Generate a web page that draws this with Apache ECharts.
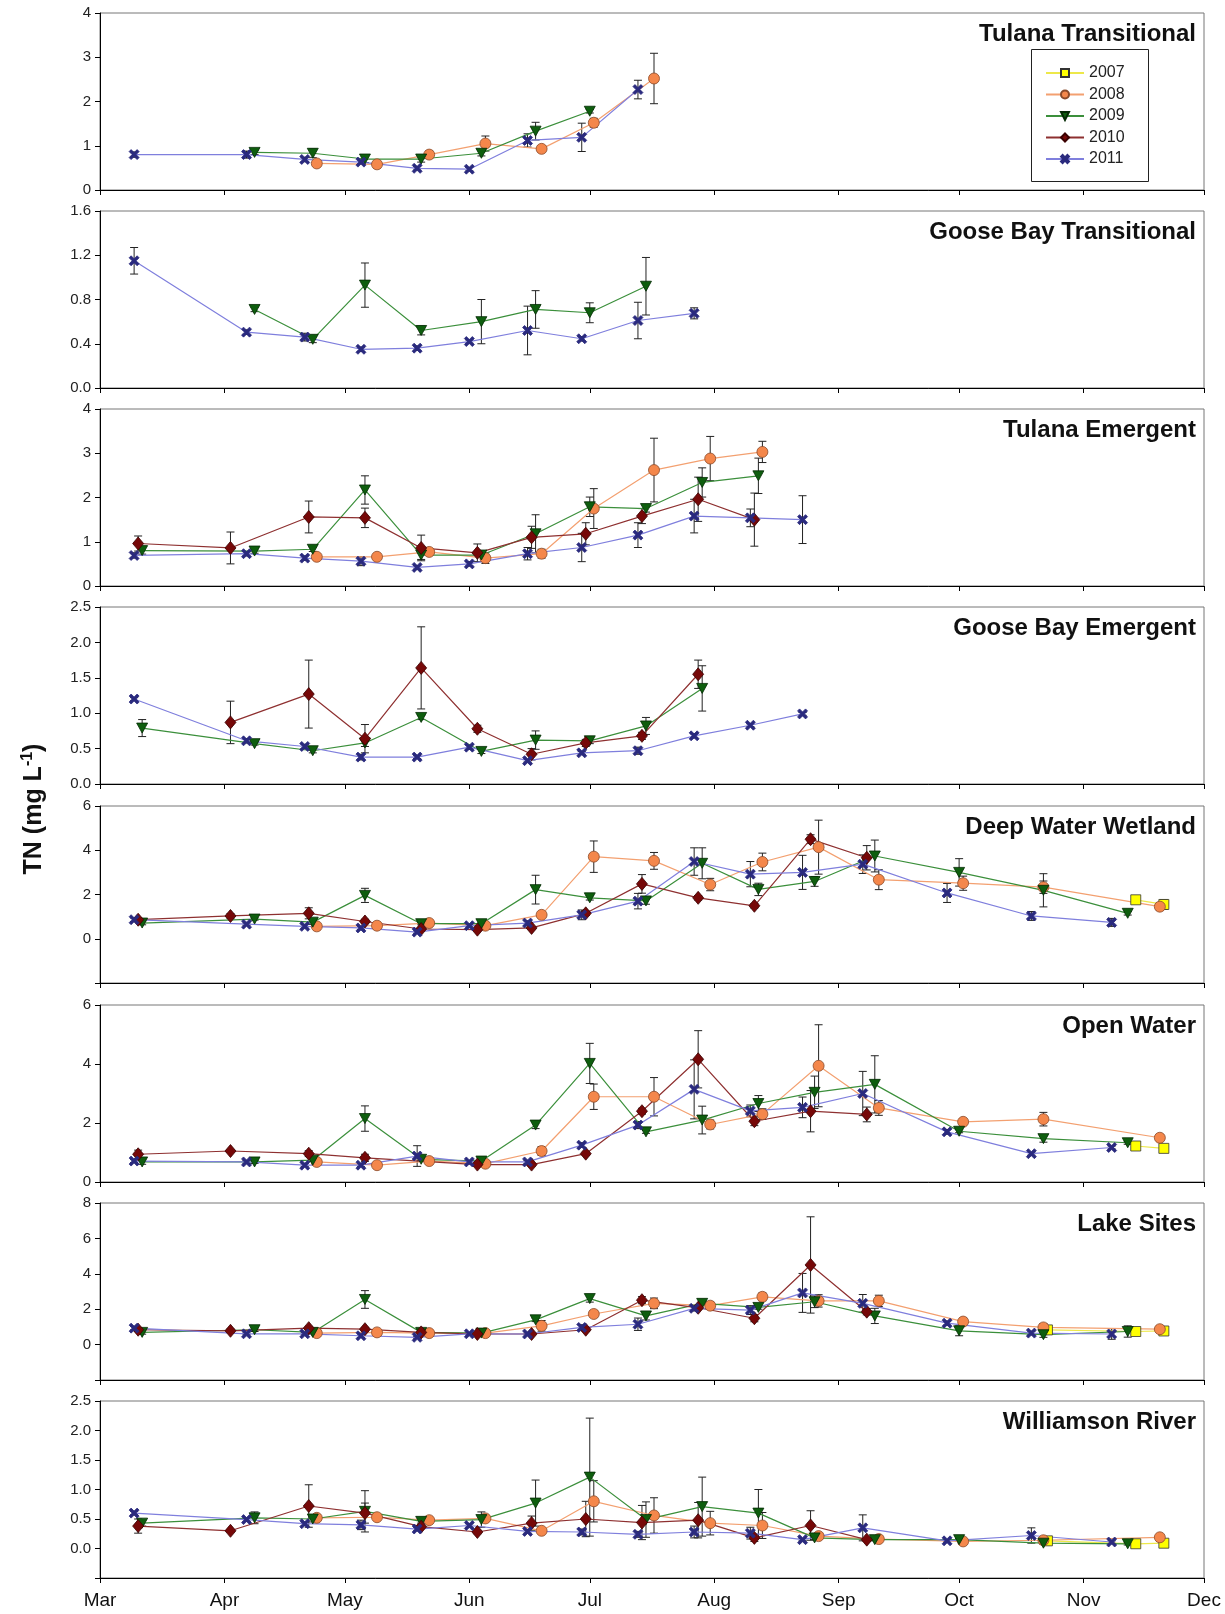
<!DOCTYPE html>
<html><head><meta charset="utf-8">
<script src="https://cdn.jsdelivr.net/npm/echarts@6/dist/echarts.min.js"></script>
<style>html,body{margin:0;padding:0;background:#fff}#c{width:1225px;height:1614px}</style>
</head><body><div id="c"></div><script>
// ---- axis / category data ----
const monthNames = ['Mar','Apr','May','Jun','Jul','Aug','Sep','Oct','Nov','Dec'];
const monthStartDays = [0,31,61,92,122,153,184,214,245,275]; // days after Mar 1
const years = ['2007','2008','2009','2010','2011'];
const panelTitles = ['Tulana Transitional','Goose Bay Transitional','Tulana Emergent','Goose Bay Emergent','Deep Water Wetland','Open Water','Lake Sites','Williamson River'];
const yMin = [0,0,0,0,-2,0,-2,-0.5];
const yMax = [4,1.6,4,2.5,6,6,8,2.5];
const yStep = [1,0.4,1,0.5,2,2,2,0.5];
const yDecimals = [0,1,0,1,0,0,0,1];

// sampling days (days after Mar 1) for each year
const days2007 = [236,258,265];
const days2008 = [54,69,82,96,110,123,138,152,165,179,194,215,235,264];
const days2009 = [10.5,38.5,53,66,80,95,108.5,122,136,150,164,178,193,214,235,256];
const days2010 = [9.5,32.5,52,66,80,94,107.5,121,135,149,163,177,191];
const days2011 = [8.5,36.5,51,65,79,92,106.5,120,134,148,162,175,190,211,232,252];

// ---- TN values (mg/L) and error bar half-widths ----
// Panel 1: Tulana Transitional
const p1_2008 = [0.6,0.58,0.8,1.05,0.93,1.52,2.52];
const p1_2008_se = [0.04,0.05,0.08,0.17,0.07,0.1,0.57];
const p1_2009 = [null,0.85,0.83,0.7,0.7,0.83,1.33,1.78];
const p1_2009_se = [0,0.05,0.1,0.08,0.07,0.06,0.2,0.04];
const p1_2011 = [0.8,0.8,0.69,0.63,0.49,0.47,1.12,1.19,2.27];
const p1_2011_se = [0.06,0.08,0.05,0.05,0.04,0.04,0.15,0.32,0.21];
// Panel 2: Goose Bay Transitional
const p2_2009 = [null,0.71,0.44,0.93,0.52,0.6,0.71,0.68,0.92];
const p2_2009_se = [0,0.02,0.03,0.2,0.04,0.2,0.17,0.09,0.26];
const p2_2011 = [1.15,0.505,0.46,0.35,0.36,0.42,0.52,0.445,0.61,0.675];
const p2_2011_se = [0.12,0.02,0.035,0.02,0.02,0.015,0.22,0.02,0.165,0.05];
// Panel 3: Tulana Emergent
const p3_2008 = [0.66,0.66,0.77,0.63,0.73,1.75,2.62,2.88,3.03];
const p3_2008_se = [0.05,0.05,0.05,0.12,0.1,0.45,0.72,0.5,0.24];
const p3_2009 = [0.8,0.79,0.83,2.17,0.7,0.7,1.18,1.79,1.75,2.34,2.49];
const p3_2009_se = [0.08,0.05,0.05,0.32,0.1,0.05,0.43,0.22,0.08,0.33,0.4];
const p3_2010 = [0.96,0.86,1.56,1.54,0.86,0.75,1.1,1.18,1.58,1.96,1.5];
const p3_2010_se = [0.17,0.36,0.36,0.22,0.29,0.2,0.25,0.25,0.17,0.5,0.6];
const p3_2011 = [0.69,0.73,0.63,0.56,0.42,0.5,0.73,0.87,1.15,1.58,1.54,1.5];
const p3_2011_se = [0.06,0.05,0.05,0.1,0.04,0.05,0.14,0.32,0.28,0.38,0.2,0.54];
// Panel 4: Goose Bay Emergent
const p4_2009 = [0.79,0.57,0.47,0.58,0.94,0.46,0.62,0.61,0.82,1.35];
const p4_2009_se = [0.12,0.02,0.03,0.05,0.03,0.03,0.13,0.04,0.12,0.32];
const p4_2010 = [null,0.87,1.27,0.64,1.64,0.78,0.42,0.58,0.68,1.55];
const p4_2010_se = [0,0.3,0.48,0.2,0.58,0.05,0.08,0.05,0.05,0.2];
const p4_2011 = [1.2,0.61,0.53,0.38,0.38,0.52,0.33,0.44,0.47,0.68,0.83,0.99];
const p4_2011_se = [0.02,0.03,0.03,0.04,0.02,0.03,0.02,0.02,0.05,0.03,0.02,0.02];
// Panel 5: Deep Water Wetland
const p5_2007 = [null,1.76,1.55];
const p5_2007_se = [0,0.17,0.22];
const p5_2008 = [0.56,0.59,0.71,0.59,1.08,3.71,3.52,2.45,3.47,4.14,2.67,2.51,2.33,1.45];
const p5_2008_se = [0.05,0.1,0.1,0.1,0.1,0.71,0.38,0.28,0.4,1.22,0.45,0.32,0.28,0.17];
const p5_2009 = [0.71,0.89,0.75,1.96,0.68,0.68,2.22,1.85,1.71,3.41,2.23,2.59,3.74,3.0,2.19,1.15];
const p5_2009_se = [0.08,0.05,0.1,0.32,0.05,0.05,0.65,0.1,0.15,0.7,0.28,0.22,0.72,0.62,0.75,0.08];
const p5_2010 = [0.86,1.03,1.15,0.78,0.44,0.41,0.49,1.15,2.48,1.85,1.49,4.5,3.66];
const p5_2010_se = [0.08,0.1,0.25,0.1,0.05,0.05,0.05,0.1,0.42,0.1,0.1,0.2,0.55];
const p5_2011 = [0.86,0.66,0.56,0.49,0.3,0.59,0.71,1.08,1.7,3.49,2.92,3.0,3.37,2.07,1.03,0.74];
const p5_2011_se = [0.08,0.05,0.08,0.08,0.05,0.05,0.1,0.22,0.35,0.62,0.57,0.77,0.42,0.43,0.2,0.18];
// Panel 6: Open Water
const p6_2007 = [null,1.22,1.14];
const p6_2007_se = [0,0.07,0.1];
const p6_2008 = [0.68,0.57,0.71,0.62,1.05,2.89,2.89,1.95,2.3,3.94,2.51,2.04,2.13,1.5];
const p6_2008_se = [0.05,0.08,0.1,0.08,0.15,0.43,0.65,0.15,0.18,1.39,0.25,0.1,0.23,0.06];
const p6_2009 = [0.68,0.68,0.74,2.15,0.77,0.71,1.93,4.02,1.7,2.1,2.66,3.04,3.31,1.72,1.47,1.33];
const p6_2009_se = [0.08,0.05,0.05,0.43,0.05,0.05,0.12,0.68,0.05,0.47,0.27,0.55,0.97,0.05,0.12,0.05];
const p6_2010 = [0.94,1.05,0.96,0.82,null,0.59,0.59,0.96,2.4,4.16,2.06,2.4,2.29];
const p6_2010_se = [0.14,0.05,0.1,0.12,0,0.05,0.05,0.05,0.1,0.97,0.15,0.7,0.25];
const p6_2011 = [0.71,0.68,0.57,0.57,0.88,0.68,0.68,1.25,1.93,3.14,2.41,2.53,3.0,1.7,0.96,1.17];
const p6_2011_se = [0.05,0.05,0.05,0.05,0.35,0.05,0.05,0.08,0.12,1.0,0.2,0.35,0.75,0.08,0.05,0.05];
// Panel 7: Lake Sites
const p7_2007 = [0.83,0.74,0.77];
const p7_2007_se = [0.1,0.12,0.2];
const p7_2008 = [0.65,0.69,0.65,0.65,1.06,1.73,2.33,2.2,2.7,2.47,2.47,1.3,0.97,0.87];
const p7_2008_se = [0.05,0.1,0.1,0.1,0.3,0.2,0.3,0.2,0.22,0.35,0.32,0.2,0.22,0.17];
const p7_2009 = [0.69,0.84,0.69,2.55,0.69,0.65,1.4,2.6,1.62,2.33,2.1,2.42,1.62,0.78,0.56,0.74];
const p7_2009_se = [0.1,0.1,0.1,0.5,0.1,0.1,0.1,0.2,0.23,0.1,0.1,0.33,0.43,0.28,0.15,0.32];
const p7_2010 = [0.84,0.78,0.93,0.87,0.69,0.6,0.6,0.84,2.51,2.08,1.49,4.5,1.86];
const p7_2010_se = [0.1,0.1,0.1,0.1,0.1,0.05,0.05,0.1,0.2,0.1,0.2,2.72,0.18];
const p7_2011 = [0.93,0.61,0.61,0.5,0.41,0.61,0.6,0.97,1.15,2.05,1.95,2.92,2.33,1.21,0.65,0.6];
const p7_2011_se = [0.1,0.05,0.05,0.1,0.05,0.05,0.05,0.15,0.35,0.15,0.25,1.1,0.5,0.12,0.1,0.3];
// Panel 8: Williamson River
const p8_2007 = [0.13,0.08,0.09];
const p8_2007_se = [0.02,0.02,0.02];
const p8_2008 = [0.52,0.53,0.48,0.51,0.3,0.8,0.56,0.43,0.39,0.21,0.16,0.12,0.14,0.19];
const p8_2008_se = [0.05,0.05,0.03,0.05,0.03,0.35,0.3,0.2,0.22,0.05,0.03,0.03,0.03,0.03];
const p8_2009 = [0.43,0.52,0.5,0.63,0.46,0.49,0.77,1.21,0.49,0.71,0.6,0.18,0.15,0.15,0.09,0.08];
const p8_2009_se = [0.05,0.1,0.05,0.35,0.03,0.13,0.39,1.0,0.3,0.5,0.4,0.03,0.02,0.02,0.02,0.02];
const p8_2010 = [0.38,0.3,0.72,0.6,0.37,0.28,0.43,0.5,0.44,0.48,0.18,0.39,0.15];
const p8_2010_se = [0.12,0.02,0.36,0.17,0.03,0.03,0.12,0.3,0.29,0.3,0.06,0.25,0.03];
const p8_2011 = [0.6,0.49,0.42,0.4,0.33,0.39,0.29,0.28,0.24,0.28,0.26,0.15,0.35,0.13,0.22,0.11];
const p8_2011_se = [0.03,0.03,0.03,0.08,0.03,0.03,0.03,0.05,0.05,0.1,0.1,0.02,0.22,0.02,0.13,0.02];

// ---- table the library needs ----
const panelData = [
  {'2008':[p1_2008,p1_2008_se],'2009':[p1_2009,p1_2009_se],'2011':[p1_2011,p1_2011_se]},
  {'2009':[p2_2009,p2_2009_se],'2011':[p2_2011,p2_2011_se]},
  {'2008':[p3_2008,p3_2008_se],'2009':[p3_2009,p3_2009_se],'2010':[p3_2010,p3_2010_se],'2011':[p3_2011,p3_2011_se]},
  {'2009':[p4_2009,p4_2009_se],'2010':[p4_2010,p4_2010_se],'2011':[p4_2011,p4_2011_se]},
  {'2007':[p5_2007,p5_2007_se],'2008':[p5_2008,p5_2008_se],'2009':[p5_2009,p5_2009_se],'2010':[p5_2010,p5_2010_se],'2011':[p5_2011,p5_2011_se]},
  {'2007':[p6_2007,p6_2007_se],'2008':[p6_2008,p6_2008_se],'2009':[p6_2009,p6_2009_se],'2010':[p6_2010,p6_2010_se],'2011':[p6_2011,p6_2011_se]},
  {'2007':[p7_2007,p7_2007_se],'2008':[p7_2008,p7_2008_se],'2009':[p7_2009,p7_2009_se],'2010':[p7_2010,p7_2010_se],'2011':[p7_2011,p7_2011_se]},
  {'2007':[p8_2007,p8_2007_se],'2008':[p8_2008,p8_2008_se],'2009':[p8_2009,p8_2009_se],'2010':[p8_2010,p8_2010_se],'2011':[p8_2011,p8_2011_se]}
];
const yearDays = {'2007':days2007,'2008':days2008,'2009':days2009,'2010':days2010,'2011':days2011};

const FONT = '"Liberation Sans", Arial, Helvetica, sans-serif';
const style = {
  '2007': {symbol:'rect', size:10, fill:'#FFFF00', border:'#333', line:'#EDE84A'},
  '2008': {symbol:'circle', size:11, fill:'#F4874B', border:'#8a4a2a', line:'#F3A070'},
  '2009': {symbol:'path://M0,0 L10,0 L5,9 Z', size:[11,10], fill:'#0E5E0E', border:'#032b03', line:'#3B8F3B'},
  '2010': {symbol:'diamond', size:[11,13], fill:'#760808', border:'#3a0000', line:'#8E3030'},
  '2011': {symbol:'path://M0,2 L2,0 L5,3 L8,0 L10,2 L7,5 L10,8 L8,10 L5,7 L2,10 L0,8 L3,5 Z', size:10, fill:'#2A2A7E', border:'#2A2A7E', line:'#7F7FDD'}
};

const tops = [13, 211, 409, 607, 806, 1005, 1203, 1401];
const H = 177;
const grids = [], xAxes = [], yAxes = [], series = [], titles = [];

function renderErr(params, api) {
  const x = api.value(0), v = api.value(1), e = api.value(2);
  if (!e) return null;
  const hi = api.coord([x, v + e]);
  const lo = api.coord([x, v - e]);
  const w = 4;
  const st = {stroke:'#222', lineWidth:1};
  return {type:'group', children:[
    {type:'line', shape:{x1:hi[0], y1:hi[1], x2:lo[0], y2:lo[1]}, style:st},
    {type:'line', shape:{x1:hi[0]-w, y1:hi[1], x2:hi[0]+w, y2:hi[1]}, style:st},
    {type:'line', shape:{x1:lo[0]-w, y1:lo[1], x2:lo[0]+w, y2:lo[1]}, style:st}
  ]};
}

panelTitles.forEach((t, i) => {
  grids.push({left:100, right:21, top:tops[i], height:H, show:true, borderColor:'#777', borderWidth:1, backgroundColor:'transparent'});
  xAxes.push({gridIndex:i, type:'value', min:0, max:275,
    splitLine:{show:false},
    axisLine:{show:true, onZero:false, lineStyle:{color:'#000', width:1}},
    axisTick:{show:true, customValues:monthStartDays, length:5, lineStyle:{color:'#000'}},
    axisLabel:{show:i===7, customValues:monthStartDays, fontSize:19, color:'#111', fontFamily:FONT, margin:13,
      formatter: v => monthNames[monthStartDays.indexOf(Math.round(v))] || ''}
  });
  yAxes.push({gridIndex:i, type:'value', min:yMin[i], max:yMax[i], interval:yStep[i],
    splitLine:{show:false},
    axisLine:{show:true, onZero:false, lineStyle:{color:'#000', width:1}},
    axisTick:{show:true, length:5, lineStyle:{color:'#000'}},
    axisLabel:{fontSize:15, color:'#222', fontFamily:FONT, margin:9,
      formatter: v => v < -1e-9 ? '' : v.toFixed(yDecimals[i])}
  });
  titles.push({text:t, right:29, top:tops[i]+9, padding:0,
    textStyle:{fontSize:24, fontWeight:'bold', color:'#111', fontFamily:FONT}});

  years.forEach(yr => {
    const entry = panelData[i][yr];
    if (!entry) return;
    const vals = entry[0], ses = entry[1], dd = yearDays[yr];
    const pts = [], errs = [];
    vals.forEach((v, k) => {
      if (v === null || v === undefined) return;
      pts.push([dd[k], v]);
      errs.push([dd[k], v, ses[k] || 0]);
    });
    const s = style[yr];
    series.push({type:'custom', xAxisIndex:i, yAxisIndex:i, data:errs, renderItem:renderErr, z:2, silent:true});
    series.push({type:'line', name:yr, xAxisIndex:i, yAxisIndex:i, data:pts,
      symbol:s.symbol, symbolSize:s.size, showAllSymbol:true,
      lineStyle:{color:s.line, width:1.2},
      itemStyle:{color:s.fill, borderColor:s.border, borderWidth:0.8},
      emphasis:{disabled:true}, z:3, animation:false});
  });
});

const chart = echarts.init(document.getElementById('c'), null, {renderer:'canvas'});
chart.setOption({
  animation:false,
  backgroundColor:'#fff',
  title: titles,
  grid: grids, xAxis: xAxes, yAxis: yAxes, series: series,
  legend: {orient:'vertical', left:1045, top:65, data:years,
    itemWidth:38, itemHeight:10, itemGap:5.5, padding:0,
    textStyle:{fontSize:16, lineHeight:14, color:'#222', fontFamily:FONT}, selectedMode:false, z:10},
  graphic: [
    {type:'rect', left:1031, top:49, z:5, shape:{width:117, height:132},
      style:{fill:'#fff', stroke:'#222', lineWidth:1}},
    {type:'text', x:31, y:809, rotation:Math.PI/2,
      style:{text:'{a|TN (mg L}{s|-1}{a|)}', textAlign:'center', textVerticalAlign:'middle',
        rich:{a:{fontSize:25, fontWeight:'bold', fontFamily:FONT, fill:'#111', padding:[7,0,0,0]},
              s:{fontSize:16, fontWeight:'bold', fontFamily:FONT, fill:'#111', padding:[0,0,7,0]}}}}]
});
</script></body></html>
